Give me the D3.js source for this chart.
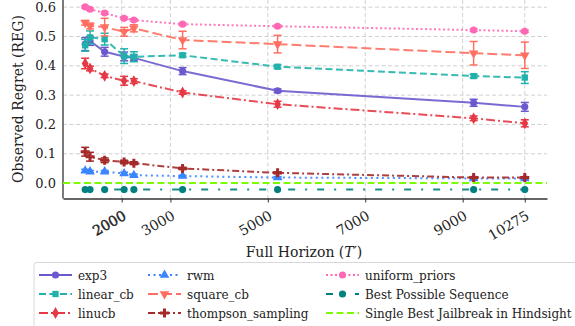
<!DOCTYPE html>
<html><head><meta charset="utf-8">
<script src="https://cdn.jsdelivr.net/npm/d3@7"></script>
<style>
body{margin:0;background:#fff;}
text{font-family:"DejaVu Serif",serif;fill:#222;}
</style></head>
<body><svg id="c" width="575" height="326"></svg>
<script>
const horizons = [1250, 1350, 1650, 2050, 2250, 3250, 5200, 9225, 10275];
const xTicks = [2000, 3000, 5000, 7000, 9000, 10275];
const yTicks = [0.0, 0.1, 0.2, 0.3, 0.4, 0.5, 0.6];

const exp3 = [0.474, 0.485, 0.448, 0.432, 0.427, 0.382, 0.315, 0.274, 0.260];
const exp3Err = [0.022, 0.015, 0.015, 0.015, 0.010, 0.012, 0.006, 0.012, 0.015];
const linearCb = [0.470, 0.497, 0.491, 0.433, 0.431, 0.436, 0.397, 0.365, 0.360];
const linearCbErr = [0.020, 0.022, 0.020, 0.025, 0.017, 0.006, 0.006, 0.006, 0.020];
const linucb = [0.408, 0.391, 0.366, 0.349, 0.348, 0.309, 0.269, 0.221, 0.204];
const linucbErr = [0.018, 0.008, 0.006, 0.015, 0.008, 0.006, 0.010, 0.008, 0.012];
const rwm = [0.042, 0.039, 0.039, 0.033, 0.027, 0.024, 0.019, 0.016, 0.016];
const rwmErr = [0.005, 0.004, 0.004, 0.004, 0.004, 0.003, 0.003, 0.003, 0.003];
const squareCb = [0.547, 0.536, 0.532, 0.516, 0.528, 0.488, 0.474, 0.443, 0.436];
const squareCbErr = [0.008, 0.010, 0.030, 0.015, 0.012, 0.030, 0.030, 0.040, 0.045];
const thompson = [0.107, 0.090, 0.078, 0.072, 0.068, 0.050, 0.035, 0.019, 0.019];
const thompsonErr = [0.015, 0.015, 0.008, 0.006, 0.005, 0.004, 0.003, 0.003, 0.003];
const uniformPriors = [0.601, 0.593, 0.580, 0.562, 0.556, 0.542, 0.535, 0.522, 0.518];
const uniformErr = [0.004, 0.004, 0.004, 0.004, 0.004, 0.004, 0.004, 0.004, 0.004];
const bestSeq = [-0.022, -0.022, -0.022, -0.022, -0.022, -0.022, -0.022, -0.022, -0.022];
const singleBest = 0.0;

const series = [
  {name:"exp3", vals:exp3, err:exp3Err, color:"#6a5acd", dash:null, sym:d3.symbolCircle, rot:0},
  {name:"linear_cb", vals:linearCb, err:linearCbErr, color:"#20b2aa", dash:"7,3.5", sym:d3.symbolSquare, rot:0},
  {name:"linucb", vals:linucb, err:linucbErr, color:"#e63946", dash:"9,3,2,3", sym:d3.symbolDiamond, rot:0},
  {name:"rwm", vals:rwm, err:rwmErr, color:"#3a86ff", dash:"2,3.5", sym:d3.symbolTriangle, rot:0},
  {name:"square_cb", vals:squareCb, err:squareCbErr, color:"#ff6f61", dash:"10,4", sym:d3.symbolTriangle, rot:180},
  {name:"thompson_sampling", vals:thompson, err:thompsonErr, color:"#a52a2a", dash:"7,3,2,3", sym:d3.symbolCross, rot:0},
  {name:"uniform_priors", vals:uniformPriors, err:uniformErr, color:"#ff69b4", dash:"2,2.5", sym:d3.symbolCircle, rot:0},
  {name:"Best Possible Sequence", vals:bestSeq, err:null, color:"#008080", dash:"7,10,2,10", sym:d3.symbolCircle, rot:0}
];

const svg = d3.select("#c");
const L = 63, R = 547, T = 0, B = 198.5;
const x = d3.scaleLinear().domain([795, 10731]).range([L, R]);
const y = d3.scaleLinear().domain([-0.0525, 0.6245]).range([B, T]);

// grid
const g = svg.append("g");
g.selectAll("line.hg").data(yTicks.filter(v=>v>0)).join("line")
  .attr("x1", L).attr("x2", R).attr("y1", d=>y(d)).attr("y2", d=>y(d))
  .attr("stroke", "#d0d0d0").attr("stroke-width", 1).attr("stroke-dasharray", "4,2.5");
g.selectAll("line.vg").data(xTicks).join("line")
  .attr("x1", d=>x(d)).attr("x2", d=>x(d)).attr("y1", T).attr("y2", B)
  .attr("stroke", "#d0d0d0").attr("stroke-width", 1).attr("stroke-dasharray", "4,2.5");

// axes
const xAxis = d3.axisBottom(x).tickValues(xTicks).tickFormat(d3.format("d")).tickSize(4).tickSizeOuter(0);
const xa = svg.append("g").attr("transform", `translate(0,${B})`).call(xAxis);
xa.select(".domain").attr("stroke", "#333").attr("stroke-width", 1.3);
xa.selectAll(".tick line").attr("stroke", "#333").attr("stroke-width", 1);
xa.selectAll(".tick text").attr("font-size", 14).attr("fill", "#222")
  .attr("text-anchor", "end").attr("dy", null).attr("y", 0)
  .attr("transform", "translate(5,20) rotate(-30)")
  .filter(d=>d===2000).attr("stroke", "#222").attr("stroke-width", 0.45);
const yAxis = d3.axisLeft(y).tickValues(yTicks).tickFormat(d3.format(".1f")).tickSize(0).tickPadding(7);
const ya = svg.append("g").attr("transform", `translate(${L},0)`).call(yAxis);
ya.select(".domain").attr("stroke", "#333").attr("stroke-width", 1.3);
ya.selectAll(".tick text").attr("font-size", 13).attr("fill", "#222");
ya.select(".domain").attr("d", `M0,${T}V${B}`);

// single best line
svg.append("line").attr("x1", L).attr("x2", R).attr("y1", y(singleBest)).attr("y2", y(singleBest))
  .attr("stroke", "#7cfc00").attr("stroke-width", 2).attr("stroke-dasharray", "7,3.5");

// series
const line = d3.line().x((d,i)=>x(horizons[i])).y(d=>y(d));
series.forEach(s => {
  const sg = svg.append("g");
  sg.append("path").attr("d", line(s.vals)).attr("fill", "none").attr("stroke", s.color)
    .attr("stroke-width", 2).attr("stroke-opacity", 0.9)
    .attr("stroke-dasharray", s.dash);
  if (s.err) {
    s.vals.forEach((v,i) => {
      const e = s.err[i], cx = x(horizons[i]);
      sg.append("line").attr("x1", cx).attr("x2", cx).attr("y1", y(v-e)).attr("y2", y(v+e))
        .attr("stroke", s.color).attr("stroke-width", 1.5);
      [v-e, v+e].forEach(w => sg.append("line").attr("x1", cx-4).attr("x2", cx+4)
        .attr("y1", y(w)).attr("y2", y(w)).attr("stroke", s.color).attr("stroke-width", 1.5));
    });
  }
  sg.selectAll("path.m").data(s.vals).join("path")
    .attr("d", d3.symbol().type(s.sym).size(s.sym===d3.symbolCross?45:40))
    .attr("transform", (d,i)=>`translate(${x(horizons[i])},${y(d)}) rotate(${s.rot})`)
    .attr("fill", s.color);
});

// axis labels
svg.append("text").attr("x", 304).attr("y", 257).attr("text-anchor", "middle").attr("font-size", 14)
  .html('Full Horizon (<tspan font-style="italic">T</tspan>′)');
svg.append("text").attr("transform", "translate(23,99) rotate(-90)").attr("text-anchor", "middle")
  .attr("font-size", 14).text("Observed Regret (REG)");

// legend
const lg = svg.append("g");
lg.append("rect").attr("x", 34).attr("y", 262.5).attr("width", 560).attr("height", 80).attr("rx", 3)
  .attr("fill", "#fff").attr("stroke", "#d8d8d8").attr("stroke-width", 1);
const legendItems = series.concat([{name:"Single Best Jailbreak in Hindsight", color:"#7cfc00", dash:"7,3.5", sym:null}]);
const colX = [39, 148, 326];
const rowY = [275, 294, 313];
legendItems.forEach((s, k) => {
  const col = Math.floor(k/3), row = k%3;
  const hx = colX[col], hy = rowY[row];
  lg.append("line").attr("x1", hx).attr("x2", hx+33).attr("y1", hy).attr("y2", hy)
    .attr("stroke", s.color).attr("stroke-width", 2).attr("stroke-dasharray", s.dash);
  if (s.sym) lg.append("path").attr("d", d3.symbol().type(s.sym).size(s.sym===d3.symbolCross?45:40))
    .attr("transform", `translate(${hx+16.5},${hy}) rotate(${s.rot})`).attr("fill", s.color);
  lg.append("text").attr("x", hx+39).attr("y", hy+4.5).attr("font-size", 12).text(s.name);
});
</script></body></html>
